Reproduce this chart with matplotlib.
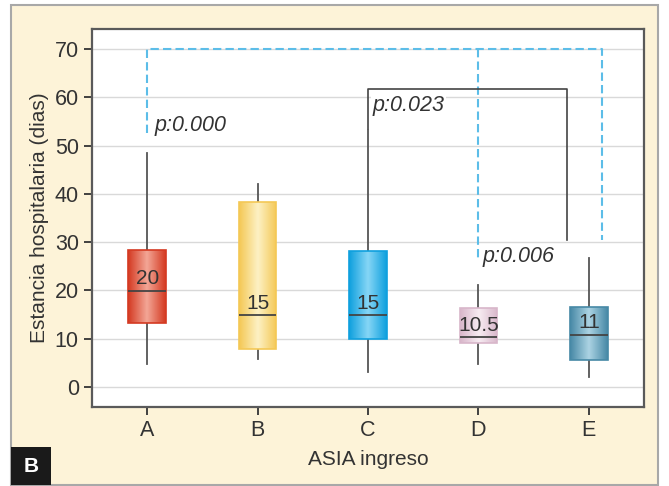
import numpy as np
import matplotlib
matplotlib.use("Agg")
from matplotlib import pyplot as plt
from matplotlib.colors import LinearSegmentedColormap
from matplotlib.patches import Rectangle

# datos
grupos = ["A", "B", "C", "D", "E"]
whis_lo = [4.8, 5.8, 3.1, 4.8, 2.1]
q1 = [13.2, 7.9, 9.9, 9.1, 5.6]
mediana = [19.9, 14.9, 14.9, 10.3, 10.8]
q3 = [28.4, 38.3, 28.2, 16.4, 16.6]
whis_hi = [48.4, 42.0, 53.2, 21.1, 26.7]
etiquetas_med = ["20", "15", "15", "10.5", "11"]

colores_borde = ["#d43a22", "#f4c855", "#0fa0de", "#d8b6ca", "#4789a6"]
colores_centro = ["#f3a696", "#fdf1c4", "#86d6f6", "#f7ecf2", "#acd3e3"]

p_valores = ["p:0.000", "p:0.023", "p:0.006"]

plt.rcParams['font.family'] = ['Liberation Sans', 'DejaVu Sans']

fig = plt.figure(figsize=(6.69, 4.86), dpi=100)
fig.patches.append(Rectangle((11/669, 1/486), 647/669, 480/486, transform=fig.transFigure,
                             facecolor="#fdf3d8", edgecolor="#a8a8a8", lw=1.5, zorder=-10))
ax = fig.add_axes([92/669, 1-407/486, 552/669, 378/486])
ax.set_facecolor("white")

stats = []
for i in range(len(grupos)):
    stats.append(dict(whislo=whis_lo[i], q1=q1[i], med=mediana[i], q3=q3[i], whishi=whis_hi[i], fliers=[]))

pos = np.arange(len(grupos))
bp = ax.bxp(stats, positions=pos, widths=0.34, patch_artist=True, showcaps=False, showfliers=False,
            whiskerprops=dict(color="#555555", lw=1.3),
            medianprops=dict(color="#444444", lw=1.3),
            boxprops=dict(lw=1.2))

ax.set_xlim(-0.5, 4.5)
ax.set_ylim(-4.2, 74.2)

for i, caja in enumerate(bp["boxes"]):
    caja.set_facecolor("none")
    caja.set_edgecolor(colores_borde[i])
    cm = LinearSegmentedColormap.from_list("g%d" % i, [colores_borde[i], colores_centro[i], colores_borde[i]])
    ext = caja.get_path().get_extents()
    grad = np.linspace(0, 1, 100).reshape(1, -1)
    im = ax.imshow(grad, cmap=cm, extent=[ext.x0, ext.x1, ext.y0, ext.y1], aspect="auto", zorder=2)
    im.set_clip_path(caja)
    caja.set_zorder(3)
    ax.text(pos[i], mediana[i] + 0.5, etiquetas_med[i], ha="center", va="bottom", fontsize=15,
            color="#333333", zorder=5)
for m in bp["medians"]:
    m.set_zorder(4)

ax.set_aspect("auto")

# lineas de comparacion
azul = "#5cbde8"
ax.plot([0, 0, 4.12, 4.12], [52.6, 70, 70, 30.4], color=azul, lw=1.5, ls=(0, (4, 2)), zorder=1)
ax.plot([3, 3], [70, 26.0], color=azul, lw=1.5, ls=(0, (4, 2)), zorder=1)
ax.plot([2, 2, 3.8, 3.8], [53.4, 61.7, 61.7, 30.4], color="#444444", lw=1.2, zorder=1)

ax.text(0.07, 54.1, p_valores[0], style="italic", fontsize=15.5, color="#333333", va="center",
        bbox=dict(facecolor="white", edgecolor="none", pad=1), zorder=6)
ax.text(2.04, 58.3, p_valores[1], style="italic", fontsize=15.5, color="#333333", va="center",
        bbox=dict(facecolor="white", edgecolor="none", pad=1), zorder=6)
ax.text(3.04, 27.1, p_valores[2], style="italic", fontsize=15.5, color="#333333", va="center",
        bbox=dict(facecolor="white", edgecolor="none", pad=1), zorder=6)

ax.set_yticks(range(0, 71, 10))
ax.set_xticks(pos)
ax.set_xticklabels(grupos)
ax.yaxis.grid(True, color="#d9d9d9", lw=1)
ax.set_axisbelow(True)
ax.tick_params(axis="both", labelsize=15.5, colors="#333333", length=6, width=1.3, direction="out")
for s in ax.spines.values():
    s.set_color("#5a5a5a")
    s.set_linewidth(1.6)

ax.set_xlabel("ASIA ingreso", fontsize=15, color="#333333", labelpad=6)
ax.set_ylabel("Estancia hospitalaria (dias)", fontsize=15, color="#333333", labelpad=4)

# recuadro B
fig.patches.append(Rectangle((11/669, 1/486), 40/669, 38/486, transform=fig.transFigure,
                             facecolor="#1a1a1a", edgecolor="none", zorder=5))
fig.text(31/669, 1-466/486, "B", color="white", fontsize=15, fontweight="bold", ha="center", va="center",
         zorder=6)

fig.savefig("out.png", dpi=100)
